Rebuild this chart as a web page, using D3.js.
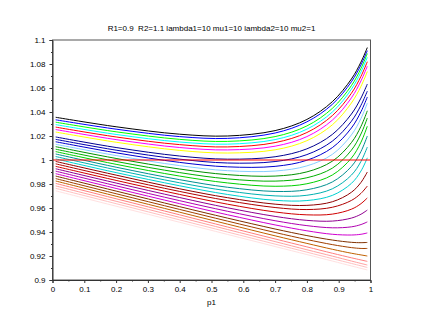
<!DOCTYPE html>
<html>
<head>
<meta charset="utf-8">
<script src="https://cdn.jsdelivr.net/npm/d3@7"></script>
<style>
  body { margin: 0; background: #fff; }
  text { font-family: "Liberation Sans", Arial, sans-serif; font-size: 8px; fill: #000; }
</style>
</head>
<body>
<script>
// Data
const title = "R1=0.9  R2=1.1 lambda1=10 mu1=10 lambda2=10 mu2=1";
const xLabel = "p1";
const p1 = [0.01, 0.2, 0.4, 0.55, 0.7, 0.8, 0.88, 0.94, 0.97, 0.99];
const curves = [
  [1.0356, 1.0277, 1.0215, 1.0200, 1.0245, 1.0338, 1.0486, 1.0675, 1.0816, 1.0937],
  [1.0335, 1.0257, 1.0195, 1.0180, 1.0225, 1.0318, 1.0464, 1.0652, 1.0792, 1.0911],
  [1.0315, 1.0235, 1.0172, 1.0155, 1.0195, 1.0284, 1.0430, 1.0620, 1.0763, 1.0887],
  [1.0295, 1.0213, 1.0150, 1.0132, 1.0170, 1.0257, 1.0400, 1.0590, 1.0733, 1.0856],
  [1.0274, 1.0192, 1.0128, 1.0109, 1.0145, 1.0229, 1.0370, 1.0556, 1.0697, 1.0819],
  [1.0254, 1.0170, 1.0104, 1.0084, 1.0115, 1.0195, 1.0332, 1.0518, 1.0659, 1.0782],
  [1.0233, 1.0148, 1.0080, 1.0058, 1.0085, 1.0161, 1.0293, 1.0475, 1.0614, 1.0737],
  [1.0213, 1.0126, 1.0056, 1.0031, 1.0055, 1.0127, 1.0254, 1.0432, 1.0569, 1.0691],
  [1.0192, 1.0104, 1.0033, 1.0007, 1.0027, 1.0093, 1.0213, 1.0383, 1.0516, 1.0633],
  [1.0172, 1.0082, 1.0007, 0.9975, 0.9987, 1.0045, 1.0157, 1.0323, 1.0456, 1.0574],
  [1.0152, 1.0060, 0.9980, 0.9943, 0.9947, 0.9998, 1.0103, 1.0267, 1.0402, 1.0525],
  [1.0131, 1.0037, 0.9953, 0.9911, 0.9908, 0.9951, 1.0047, 1.0209, 1.0346, 1.0474],
  [1.0111, 1.0013, 0.9925, 0.9878, 0.9866, 0.9901, 0.9990, 1.0145, 1.0280, 1.0410],
  [1.0090, 0.9988, 0.9895, 0.9843, 0.9824, 0.9852, 0.9932, 1.0082, 1.0217, 1.0350],
  [1.0070, 0.9964, 0.9866, 0.9809, 0.9781, 0.9802, 0.9875, 1.0016, 1.0148, 1.0282],
  [1.0050, 0.9940, 0.9836, 0.9773, 0.9738, 0.9752, 0.9817, 0.9946, 1.0071, 1.0200],
  [1.0029, 0.9918, 0.9810, 0.9743, 0.9701, 0.9706, 0.9760, 0.9874, 0.9988, 1.0108],
  [1.0009, 0.9895, 0.9785, 0.9713, 0.9664, 0.9662, 0.9705, 0.9805, 0.9908, 1.0018],
  [0.9988, 0.9874, 0.9760, 0.9686, 0.9632, 0.9622, 0.9652, 0.9731, 0.9813, 0.9900],
  [0.9968, 0.9852, 0.9738, 0.9662, 0.9604, 0.9587, 0.9606, 0.9663, 0.9722, 0.9783],
  [0.9947, 0.9830, 0.9713, 0.9632, 0.9567, 0.9543, 0.9549, 0.9590, 0.9636, 0.9684],
  [0.9927, 0.9808, 0.9687, 0.9602, 0.9530, 0.9497, 0.9491, 0.9516, 0.9548, 0.9583],
  [0.9907, 0.9785, 0.9661, 0.9573, 0.9494, 0.9453, 0.9435, 0.9443, 0.9462, 0.9484],
  [0.9886, 0.9763, 0.9636, 0.9544, 0.9459, 0.9410, 0.9381, 0.9375, 0.9381, 0.9392],
  [0.9866, 0.9741, 0.9611, 0.9516, 0.9425, 0.9370, 0.9333, 0.9314, 0.9311, 0.9313],
  [0.9845, 0.9719, 0.9588, 0.9491, 0.9396, 0.9337, 0.9295, 0.9270, 0.9263, 0.9263],
  [0.9825, 0.9698, 0.9565, 0.9466, 0.9368, 0.9305, 0.9256, 0.9223, 0.9209, 0.9200],
  [0.9805, 0.9677, 0.9543, 0.9442, 0.9342, 0.9276, 0.9223, 0.9185, 0.9167, 0.9155],
  [0.9784, 0.9656, 0.9522, 0.9421, 0.9320, 0.9252, 0.9199, 0.9158, 0.9138, 0.9125],
  [0.9764, 0.9636, 0.9501, 0.9400, 0.9299, 0.9232, 0.9178, 0.9138, 0.9118, 0.9104],
  [0.9743, 0.9615, 0.9481, 0.9380, 0.9279, 0.9212, 0.9158, 0.9117, 0.9097, 0.9084]
];
// Scilab default colormap, colours 1..31
const curveColors = [
  "#000000", "#0000ff", "#00ff00", "#00ffff", "#ff0000", "#ff00ff", "#ffff00", "#ffffff",
  "#000090", "#0000b0", "#0000d0", "#87ceff", "#009000", "#00b000", "#00d000", "#009090",
  "#00b0b0", "#00d0d0", "#900000", "#b00000", "#d00000", "#900090", "#b000b0", "#d000d0",
  "#803000", "#a04000", "#c06000", "#ff8080", "#ffa0a0", "#ffc0c0", "#ffe0e0"
];
const refLevel = 1;
const xTicks = d3.range(0, 11).map(i => i / 10);
const yTicks = d3.range(0, 11).map(i => 0.9 + i * 0.02);

const width = 424, height = 320;
const plotL = 52.5, plotR = 370.5, plotT = 40, plotB = 280;

const svg = d3.select("body").append("svg")
  .attr("width", width)
  .attr("height", height);

const x = d3.scaleLinear().domain([0, 1]).range([plotL, plotR]);
const y = d3.scaleLinear().domain([0.9, 1.1]).range([plotB, plotT]);

// curves
const line = d3.line()
  .x((d, i) => x(p1[i]))
  .y(d => y(d))
  .curve(d3.curveCatmullRom.alpha(0.5));

svg.append("g")
  .selectAll("path")
  .data(curves)
  .enter()
  .append("path")
  .attr("d", d => line(d))
  .attr("fill", "none")
  .attr("stroke", (d, i) => curveColors[i])
  .attr("stroke-width", 1);

// horizontal reference line
svg.append("line")
  .attr("x1", x(0)).attr("x2", x(1))
  .attr("y1", y(refLevel)).attr("y2", y(refLevel))
  .attr("stroke", "#ff0000")
  .attr("stroke-width", 1);

// frame
svg.append("rect")
  .attr("x", plotL).attr("y", plotT)
  .attr("width", plotR - plotL).attr("height", plotB - plotT)
  .attr("fill", "none")
  .attr("stroke", "#555")
  .attr("stroke-width", 1);

// x axis
const xAxis = d3.axisBottom(x)
  .tickValues(xTicks)
  .tickFormat(d3.format("~g"))
  .tickSize(3)
  .tickPadding(3);
const gx = svg.append("g").attr("transform", `translate(0,${plotB})`).call(xAxis);
gx.select(".domain").attr("stroke", "#333");
gx.selectAll("text").style("font-size", "8px");

svg.append("g").attr("transform", `translate(0,${plotB})`)
  .call(d3.axisBottom(x).tickValues(xTicks.slice(0, -1).map(v => v + 0.05)).tickSize(1.5).tickFormat(""))
  .select(".domain").remove();

// y axis
const yAxis = d3.axisLeft(y)
  .tickValues(yTicks)
  .tickFormat(d3.format("~g"))
  .tickSize(3)
  .tickPadding(4);
const gy = svg.append("g").attr("transform", `translate(${plotL},0)`).call(yAxis);
gy.select(".domain").attr("stroke", "#333");
gy.selectAll("text").style("font-size", "8px");

svg.append("g").attr("transform", `translate(${plotL},0)`)
  .call(d3.axisLeft(y).tickValues(yTicks.slice(0, -1).map(v => v + 0.01)).tickSize(1.5).tickFormat(""))
  .select(".domain").remove();

svg.selectAll(".tick line").attr("stroke", "#333");

// title and label
svg.append("text")
  .attr("x", (plotL + plotR) / 2).attr("y", 31)
  .attr("text-anchor", "middle")
  .style("white-space", "pre")
  .text(title);

svg.append("text")
  .attr("x", (plotL + plotR) / 2).attr("y", 305)
  .attr("text-anchor", "middle")
  .text(xLabel);
</script>
</body>
</html>
